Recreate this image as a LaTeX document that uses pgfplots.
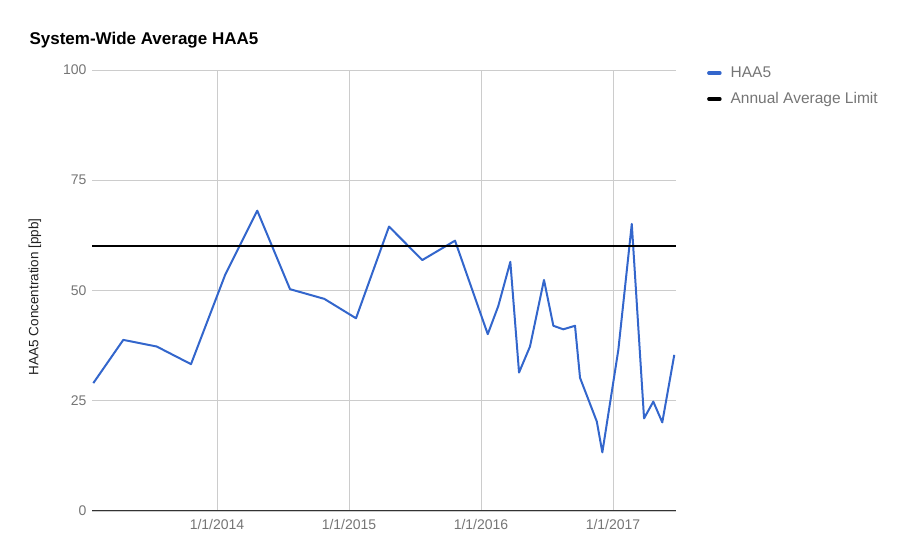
\documentclass[border=0pt]{standalone}
\usepackage{pgfplots}
\pgfplotsset{compat=1.18}
\usepackage{fontspec}
\setmainfont{Liberation Sans}
\definecolor{haablue}{HTML}{3366CC}
\definecolor{gridgray}{HTML}{CCCCCC}
\definecolor{labelgray}{HTML}{757575}
\definecolor{axisdark}{HTML}{333333}
\begin{document}
\begin{tikzpicture}
\path[use as bounding box] (0,0) rectangle (906pt,560pt);
\node[anchor=west, font=\fontsize{17}{17}\selectfont\bfseries] at (26pt,520pt) {System-Wide Average HAA5};
\begin{axis}[
  at={(92pt,49pt)}, anchor=south west,
  scale only axis, width=584pt, height=441pt,
  xmin=2013.053, xmax=2017.477, ymin=0, ymax=100,
  xtick={2014,2015,2016,2017},
  xticklabels={1/1/2014,1/1/2015,1/1/2016,1/1/2017},
  ytick={0,25,50,75,100},
  grid=major,
  major grid style={color=gridgray, line width=0.8pt},
  axis line style={draw=none},
  tick style={draw=none},
  /pgf/number format/assume math mode=true,
  ticklabel style={font=\fontsize{14}{14}\selectfont, text=labelgray},
  yticklabel style={xshift=-2pt},
  xticklabel style={yshift=-5pt},
  ylabel={HAA5 Concentration [ppb]},
  ylabel style={at={(axis description cs:-0.0976,0.486)}, anchor=center, font=\fontsize{13.5}{13.5}\selectfont, text=black!87},
  legend style={at={(axis description cs:1.053,1.012)}, anchor=north west, draw=none, fill=none,
    font=\fontsize{15.5}{15.5}\selectfont, text=labelgray, row sep=9.5pt, inner sep=0pt,
    /tikz/every odd column/.append style={column sep=7pt}},
  legend cell align=left,
  legend image code/.code={\draw[#1, line width=3.5pt, line cap=round] (0pt,0pt) -- (11pt,0pt);},
]
\addplot[haablue, line width=2pt, line join=round] coordinates {
(2013.063,29.0) (2013.290,38.8) (2013.543,37.3) (2013.803,33.3)
(2014.061,53.5) (2014.305,68.1) (2014.553,50.3) (2014.813,48.1)
(2015.053,43.7) (2015.303,64.5) (2015.555,56.9) (2015.803,61.3)
(2016.051,40.1) (2016.131,46.5) (2016.222,56.5) (2016.288,31.4)
(2016.371,37.3) (2016.477,52.4) (2016.548,42.0) (2016.623,41.2)
(2016.712,42.0) (2016.750,30.2) (2016.877,20.3) (2016.919,13.3)
(2017.040,36.5) (2017.142,65.1) (2017.235,21.0) (2017.305,24.8)
(2017.373,20.1) (2017.464,35.4)
};
\addlegendentry{HAA5}
\addplot[black, line width=2pt] coordinates {(2013.053,60) (2017.477,60)};
\addlegendentry{Annual Average Limit}
\draw[axisdark, line width=1.2pt] (axis cs:2013.053,0) -- (axis cs:2017.477,0);
\end{axis}
\end{tikzpicture}
\end{document}
